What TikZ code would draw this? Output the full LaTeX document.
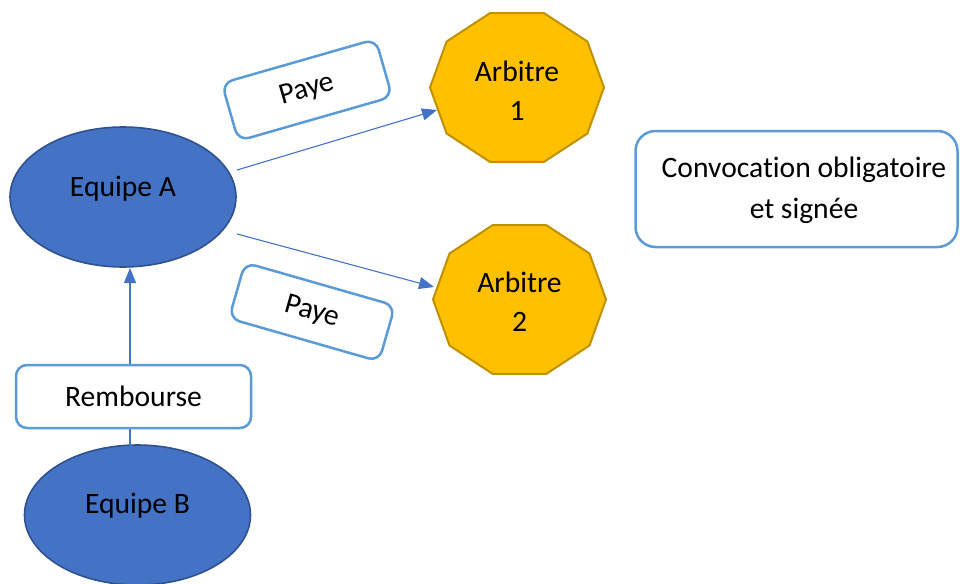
\documentclass[tikz,border=0pt]{standalone}
\usepackage{fontspec}
\setmainfont[Ligatures=NoCommon]{Carlito}
\usetikzlibrary{arrows.meta,shapes.geometric}
\definecolor{bluefill}{HTML}{4472C4}
\definecolor{blueedge}{HTML}{2F528F}
\definecolor{boxedge}{HTML}{5B9BD5}
\definecolor{goldfill}{HTML}{FFC000}
\definecolor{goldedge}{HTML}{BF9000}
\tikzset{
  team/.style={ellipse, fill=bluefill, draw=blueedge, line width=1.6pt, minimum width=226pt, minimum height=140pt, inner sep=0pt},
  txt/.style={font=\fontsize{29.6}{39}\selectfont, align=center, inner sep=0pt},
  labelbox/.style={draw=boxedge, fill=white, line width=2.5pt, rounded corners=11pt, font=\fontsize{29.6}{40}\selectfont, inner sep=0pt},
  arb/.style={fill=goldfill, draw=goldedge, line width=2pt, line join=miter},
  conn/.style={draw=bluefill, line width=1.1pt, -{Triangle[length=15pt,width=12pt]}},
}
\begin{document}
\begin{tikzpicture}[x=1pt,y=-1pt]
\useasboundingbox (0,0) rectangle (960,583);
\clip (0,0) rectangle (960,583);
% teams
\node[team] (A) at (123,197) {};
\node[txt, anchor=base] (At) at (123,196) {Equipe A};
\node[team] (B) at (137.5,515) {};
\node[txt, anchor=base] (Bt) at (137.5,513) {Equipe B};
% referees
\draw[arb] plot[samples at={0,36,...,324}] ({517+87*cos(\x)},{87.5+78.3*sin(\x)}) -- cycle;
\node[txt] (arb1) at (517,90.5) {Arbitre\\1};
\draw[arb] plot[samples at={0,36,...,324}] ({519.5+86.5*cos(\x)},{299.5+78.3*sin(\x)}) -- cycle;
\node[txt] (arb2) at (519.5,302) {Arbitre\\2};
% connector end points
\coordinate (a1out) at (237,170);
\coordinate (a1in) at (437,110);
\coordinate (a2out) at (237,234);
\coordinate (a2in) at (434,287);
\coordinate (bout) at (130,446);
\coordinate (ain) at (130,268);
\draw[conn] (a1out) -- (a1in);
\draw[conn] (a2out) -- (a2in);
\draw[conn] (bout) -- (ain);
% label boxes
\node[labelbox, minimum width=235pt, minimum height=63pt] (remb) at (133.5,396.5) {Rembourse};
\node[labelbox, minimum width=160pt, minimum height=60pt, rotate=16] (paye1) at (307,90) {Paye};
\node[labelbox, minimum width=156pt, minimum height=58pt, rotate=-16] (paye2) at (312,312) {Paye};
\node[labelbox, rounded corners=20pt, minimum width=322pt, minimum height=116pt] (conv) at (796.5,189) {};
\node[txt, font=\fontsize{29.6}{41}\selectfont] (convt) at (804,190) {Convocation obligatoire\\et signée};
\end{tikzpicture}
\end{document}
